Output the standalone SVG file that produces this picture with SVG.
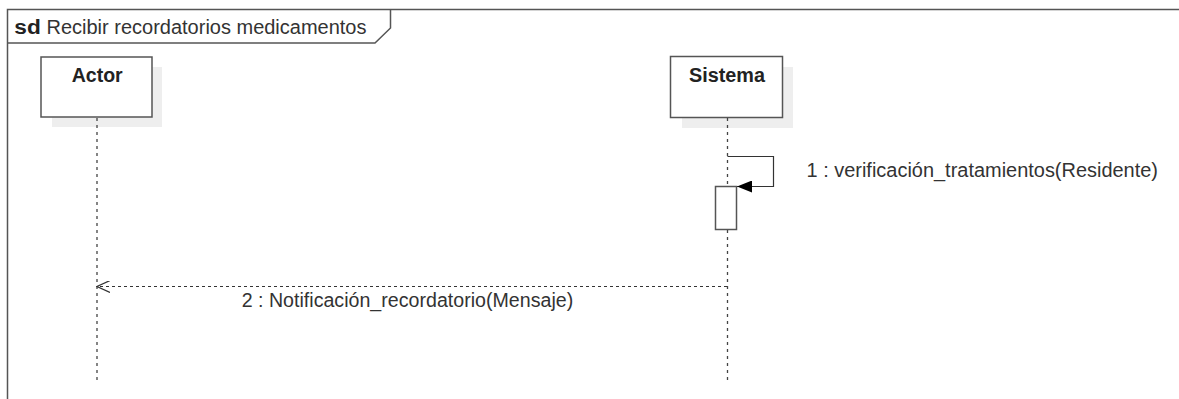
<svg xmlns="http://www.w3.org/2000/svg" width="1179" height="399" viewBox="0 0 1179 399">
<style>
text{font-family:"Liberation Sans",Arial,sans-serif;fill:#222;font-size:20px}
.box{fill:#fff;stroke:#555;stroke-width:1.5}
.shadow{fill:#eeeeee}
.life{stroke:#444;stroke-width:1.3;stroke-dasharray:3,4;fill:none}
.msg{stroke:#333;stroke-width:1.2;fill:none}
.frame{stroke:#555;stroke-width:1.5;fill:none}
.name{font-weight:bold}
.lbl{fill:#333}
</style>
<defs>
<marker id="filled" markerWidth="16" markerHeight="12" refX="15" refY="6" orient="auto" markerUnits="userSpaceOnUse">
<path d="M0,0 L15,6 L0,12 Z" fill="#000"/>
</marker>
<marker id="open" markerWidth="14" markerHeight="12" refX="13" refY="6" orient="auto" markerUnits="userSpaceOnUse">
<path d="M0,0 L13,6 L0,12" fill="none" stroke="#333" stroke-width="1.2"/>
</marker>
</defs>
<g id="frame">
<path class="frame" d="M7.5,399 L7.5,9.5 L1179,9.5"/>
<path class="frame" d="M7.5,43 L375,43 L390.5,28 L390.5,9.5"/>
<text x="14.3" y="34" font-weight="bold" textLength="26.5" lengthAdjust="spacingAndGlyphs">sd</text>
<text x="46.5" y="34" class="lbl" textLength="320" lengthAdjust="spacingAndGlyphs">Recibir recordatorios medicamentos</text>
</g>
<g id="actor">
<rect class="shadow" x="52" y="67" width="110" height="60"/>
<rect class="box" x="41" y="57" width="111" height="60"/>
<text class="name" x="71.7" y="82" textLength="51" lengthAdjust="spacingAndGlyphs">Actor</text>
<line class="life" x1="97" y1="118" x2="97" y2="383"/>
</g>
<g id="sistema">
<rect class="shadow" x="682" y="67" width="111" height="61"/>
<rect class="box" x="670.5" y="56.5" width="112" height="61"/>
<text class="name" x="689" y="82" textLength="76" lengthAdjust="spacingAndGlyphs">Sistema</text>
<line class="life" x1="727.5" y1="118" x2="727.5" y2="383"/>
<rect id="activation" class="box" x="715.5" y="186.5" width="21" height="43" stroke-width="1.2"/>
</g>
<g id="connectors">
<path class="msg" d="M727.5,156.5 L773.5,156.5 L773.5,186.5 L737,186.5" marker-end="url(#filled)"/>
<text class="lbl" x="806.5" y="177" textLength="351.5" lengthAdjust="spacingAndGlyphs">1 : verificación_tratamientos(Residente)</text>
<line class="msg" x1="727" y1="286.5" x2="97" y2="286.5" stroke-dasharray="3,3" marker-end="url(#open)"/>
<text class="lbl" x="241.7" y="307" textLength="331.5" lengthAdjust="spacingAndGlyphs">2 : Notificación_recordatorio(Mensaje)</text>
</g>
</svg>
